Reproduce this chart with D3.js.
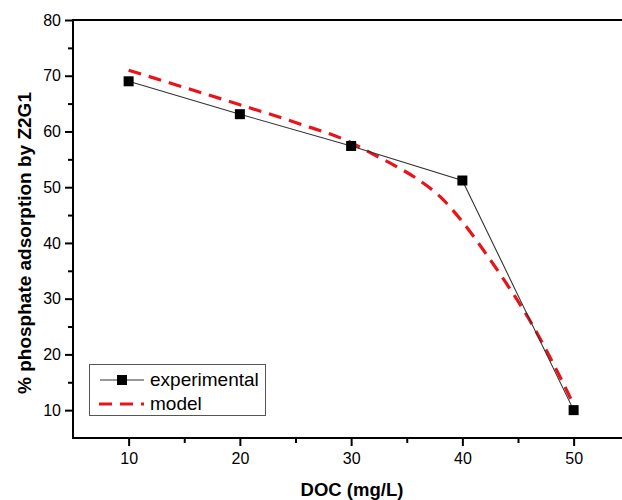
<!DOCTYPE html>
<html>
<head>
<meta charset="utf-8">
<script src="https://cdn.jsdelivr.net/npm/d3@7"></script>
<style>
    body { margin: 0; background: #fff; }
    text { font-family: "Liberation Sans", Arial, sans-serif; }
</style>
</head>
<body>
<div id="chart"></div>
<script>
(function () {

    // experimental points
    const docValues = [10, 20, 30, 40, 50];
    const expValues = [69, 63.1, 57.4, 51.2, 10];

    // model curve
    const modelDoc = [10, 15, 20, 25, 30, 32, 34, 36, 38, 40, 42, 44, 46, 48, 50];
    const modelValues = [71, 67.9, 64.8, 61.6, 58, 55.9, 53.8, 51.4, 48.3, 43.8, 38.4, 32.6, 26.3, 19, 11];

    const xTicks = [10, 20, 30, 40, 50];
    const yTicks = [10, 20, 30, 40, 50, 60, 70, 80];

    const width = 622, height = 500;
    const left = 73, top = 20, bottom = 438;

    const xScale = d3.scaleLinear().domain([5, 55]).range([left, left + 50 * 11.125]);
    const yScale = d3.scaleLinear().domain([5, 80]).range([bottom, top]);

    const svg = d3.select("#chart")
        .append("svg")
        .attr("width", width)
        .attr("height", height);

    // axes
    const xAxis = d3.axisBottom(xScale).tickValues(xTicks).tickSize(8).tickPadding(7).tickFormat(d3.format("d"));
    const xMinor = d3.axisBottom(xScale).tickValues([15, 25, 35, 45]).tickSize(5).tickFormat("");
    const yAxis = d3.axisLeft(yScale).tickValues(yTicks).tickSize(8).tickPadding(4).tickFormat(d3.format("d"));
    const yMinor = d3.axisLeft(yScale).tickValues([15, 25, 35, 45, 55, 65, 75]).tickSize(5).tickFormat("");

    function styleAxis(g) {
        g.select(".domain").remove();
        g.selectAll(".tick line").attr("stroke", "#000").attr("stroke-width", 2);
        g.selectAll(".tick text").attr("fill", "#000").style("font-size", "16px");
    }

    svg.append("g").attr("transform", `translate(0,${bottom})`).call(xAxis).call(styleAxis);
    svg.append("g").attr("transform", `translate(0,${bottom})`).call(xMinor).call(styleAxis);
    svg.append("g").attr("transform", `translate(${left},0)`).call(yAxis).call(styleAxis);
    svg.append("g").attr("transform", `translate(${left},0)`).call(yMinor).call(styleAxis);

    // frame lines (chart is cropped on the right)
    svg.append("line").attr("x1", left).attr("x2", width).attr("y1", bottom).attr("y2", bottom)
        .attr("stroke", "#000").attr("stroke-width", 2);
    svg.append("line").attr("x1", left).attr("x2", width).attr("y1", top).attr("y2", top)
        .attr("stroke", "#000").attr("stroke-width", 2);
    svg.append("line").attr("x1", left).attr("x2", left).attr("y1", top - 1).attr("y2", bottom + 1)
        .attr("stroke", "#000").attr("stroke-width", 2);

    // model dashed curve
    const modelLine = d3.line()
        .x((d, i) => xScale(modelDoc[i]))
        .y(d => yScale(d))
        .curve(d3.curveMonotoneX);

    svg.append("path")
        .datum(modelValues)
        .attr("fill", "none")
        .attr("stroke", "#e8141b")
        .attr("stroke-width", 3.2)
        .attr("stroke-dasharray", "13,8")
        .attr("d", modelLine);

    // experimental
    const expLine = d3.line()
        .x((d, i) => xScale(docValues[i]))
        .y(d => yScale(d));

    svg.append("path")
        .datum(expValues)
        .attr("fill", "none")
        .attr("stroke", "#333")
        .attr("stroke-width", 1.1)
        .attr("d", expLine);

    svg.append("g")
        .selectAll("rect")
        .data(expValues)
        .enter()
        .append("rect")
        .attr("x", (d, i) => xScale(docValues[i]) - 5)
        .attr("y", d => yScale(d) - 5)
        .attr("width", 10)
        .attr("height", 10)
        .attr("fill", "#000");

    // axis titles
    svg.append("text")
        .attr("x", 352).attr("y", 496)
        .attr("text-anchor", "middle")
        .style("font-size", "18.5px").style("font-weight", "bold")
        .text("DOC (mg/L)");

    svg.append("text")
        .attr("transform", "translate(31,243)rotate(-90)")
        .attr("text-anchor", "middle")
        .style("font-size", "19px").style("font-weight", "bold")
        .text("% phosphate adsorption by Z2G1");

    // legend
    const legend = svg.append("g");
    legend.append("rect")
        .attr("x", 89.5).attr("y", 364.5).attr("width", 176).attr("height", 51)
        .attr("fill", "#fff").attr("stroke", "#555").attr("stroke-width", 1);
    legend.append("line").attr("x1", 100).attr("x2", 144).attr("y1", 380).attr("y2", 380)
        .attr("stroke", "#333").attr("stroke-width", 1.1);
    legend.append("rect").attr("x", 117).attr("y", 375).attr("width", 10).attr("height", 10).attr("fill", "#000");
    legend.append("line").attr("x1", 99).attr("x2", 144).attr("y1", 404).attr("y2", 404)
        .attr("stroke", "#e8141b").attr("stroke-width", 3.2).attr("stroke-dasharray", "13,8");
    legend.append("text").attr("x", 150).attr("y", 386).style("font-size", "19px").text("experimental");
    legend.append("text").attr("x", 150).attr("y", 410).style("font-size", "19px").text("model");

})()
</script>
</body>
</html>
